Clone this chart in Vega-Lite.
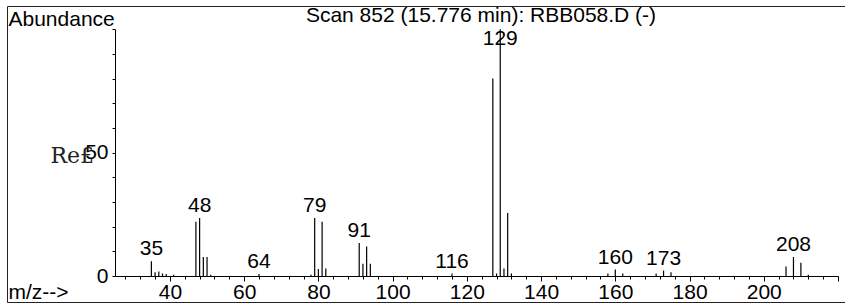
{
  "$schema": "https://vega.github.io/schema/vega-lite/v6.json",
  "width": 838,
  "height": 296,
  "autosize": {"type": "none"},
  "padding": {"left": 7, "top": 6, "right": 0, "bottom": 5},
  "background": "white",
  "config": {
    "font": "Liberation Sans",
    "view": {"stroke": "#222", "strokeWidth": 1},
    "axis": {"grid": false, "domainColor": "black", "tickColor": "black", "labelColor": "black", "titleColor": "black", "labelFont": "Liberation Sans", "titleFont": "Liberation Sans", "titleFontWeight": "normal"}
  },
  "title": {
    "text": "Scan 852 (15.776 min): RBB058.D (-)",
    "font": "Liberation Sans",
    "fontSize": 21,
    "fontWeight": "normal",
    "color": "black",
    "anchor": "middle",
    "frame": "group",
    "dx": 55,
    "dy": 24
  },
  "data": {
    "values": [
      {"mz": 35, "ab": 6, "label": "35"},
      {"mz": 36, "ab": 1.5},
      {"mz": 37, "ab": 1.8},
      {"mz": 38, "ab": 1},
      {"mz": 39, "ab": 0.8},
      {"mz": 41, "ab": 0.5},
      {"mz": 47, "ab": 22},
      {"mz": 48, "ab": 23.5, "label": "48"},
      {"mz": 49, "ab": 7.7},
      {"mz": 50, "ab": 7.7},
      {"mz": 51, "ab": 0.5},
      {"mz": 64, "ab": 0.8, "label": "64"},
      {"mz": 78, "ab": 0.5},
      {"mz": 79, "ab": 23.5, "label": "79"},
      {"mz": 80, "ab": 2.8},
      {"mz": 81, "ab": 22},
      {"mz": 82, "ab": 3},
      {"mz": 91, "ab": 13.4, "label": "91"},
      {"mz": 92, "ab": 5},
      {"mz": 93, "ab": 12},
      {"mz": 94, "ab": 5},
      {"mz": 116, "ab": 1, "label": "116"},
      {"mz": 127, "ab": 80},
      {"mz": 128, "ab": 1},
      {"mz": 129, "ab": 100, "label": "129"},
      {"mz": 130, "ab": 3},
      {"mz": 131, "ab": 25.5},
      {"mz": 132, "ab": 1},
      {"mz": 158, "ab": 1},
      {"mz": 160, "ab": 2.6, "label": "160"},
      {"mz": 162, "ab": 1},
      {"mz": 171, "ab": 1},
      {"mz": 173, "ab": 2.2, "label": "173"},
      {"mz": 175, "ab": 1.5},
      {"mz": 206, "ab": 3.8},
      {"mz": 208, "ab": 7.7, "label": "208"},
      {"mz": 210, "ab": 5.4},
      {"mz": 212, "ab": 0.5}
    ]
  },
  "layer": [
    {
      "mark": {"type": "rule", "color": "black", "strokeWidth": 1.2},
      "encoding": {
        "x": {
          "field": "mz", "type": "quantitative",
          "scale": {"domain": [25.2, 220], "range": [108, 831], "nice": false, "zero": false},
          "axis": {
            "orient": "bottom", "offset": -26,
            "values": [40, 60, 80, 100, 120, 140, 160, 180, 200, 220],
            "labelExpr": "datum.value == 220 ? '' : datum.label",
            "tickSize": 5, "labelPadding": 0, "labelFontSize": 21,
            "labelFlush": false, "labelOverlap": false,
            "title": "m/z-->", "titleFontSize": 21, "titleAlign": "left", "titleBaseline": "alphabetic",
            "titleX": 1, "titleY": 22
          }
        },
        "y": {
          "field": "ab", "type": "quantitative",
          "scale": {"domain": [0, 100], "range": [270, 23.2], "nice": false, "zero": true},
          "axis": {
            "orient": "left", "offset": -108,
            "values": [0, 10, 20, 30, 40, 50, 60, 70, 80, 90, 100],
            "labelExpr": "datum.value == 0 || datum.value == 50 ? datum.label : ''",
            "tickSize": 3, "labelPadding": 4, "labelFontSize": 21,
            "title": "Abundance", "titleFontSize": 21, "titleAngle": 0, "titleAlign": "left", "titleBaseline": "alphabetic",
            "titleX": -107, "titleY": 19
          }
        },
        "y2": {"datum": 0}
      }
    },
    {
      "transform": [{"filter": "datum.label != null && datum.mz != 129"}],
      "mark": {"type": "text", "dy": -6, "align": "center", "baseline": "alphabetic", "font": "Liberation Sans", "fontSize": 21, "color": "black"},
      "encoding": {
        "x": {
          "field": "mz", "type": "quantitative",
          "axis": {
            "orient": "bottom", "offset": -26,
            "values": [28, 32, 36, 44, 48, 52, 56, 64, 68, 72, 76, 84, 88, 92, 96, 104, 108, 112, 116, 124, 128, 132, 136, 144, 148, 152, 156, 164, 168, 172, 176, 184, 188, 192, 196, 204, 208, 212, 216],
            "tickSize": 3, "labels": false, "domain": false, "title": null
          }
        },
        "y": {
          "field": "ab", "type": "quantitative",
          "axis": {
            "orient": "left", "offset": -108,
            "domain": false, "ticks": false, "labels": false,
            "title": "Re£", "titleFont": "DejaVu Serif", "titleFontSize": 22, "titleColor": "#222",
            "titleAngle": 0, "titleAlign": "left", "titleBaseline": "alphabetic",
            "titleX": -65, "titleY": 156
          }
        },
        "text": {"field": "label"}
      }
    },
    {
      "transform": [{"filter": "datum.mz == 129"}],
      "mark": {"type": "text", "dy": 16, "align": "center", "baseline": "alphabetic", "font": "Liberation Sans", "fontSize": 21, "color": "black"},
      "encoding": {
        "x": {"field": "mz", "type": "quantitative", "axis": null},
        "y": {"field": "ab", "type": "quantitative", "axis": null},
        "text": {"field": "label"}
      }
    }
  ],
  "resolve": {"axis": {"x": "independent", "y": "independent"}}
}
